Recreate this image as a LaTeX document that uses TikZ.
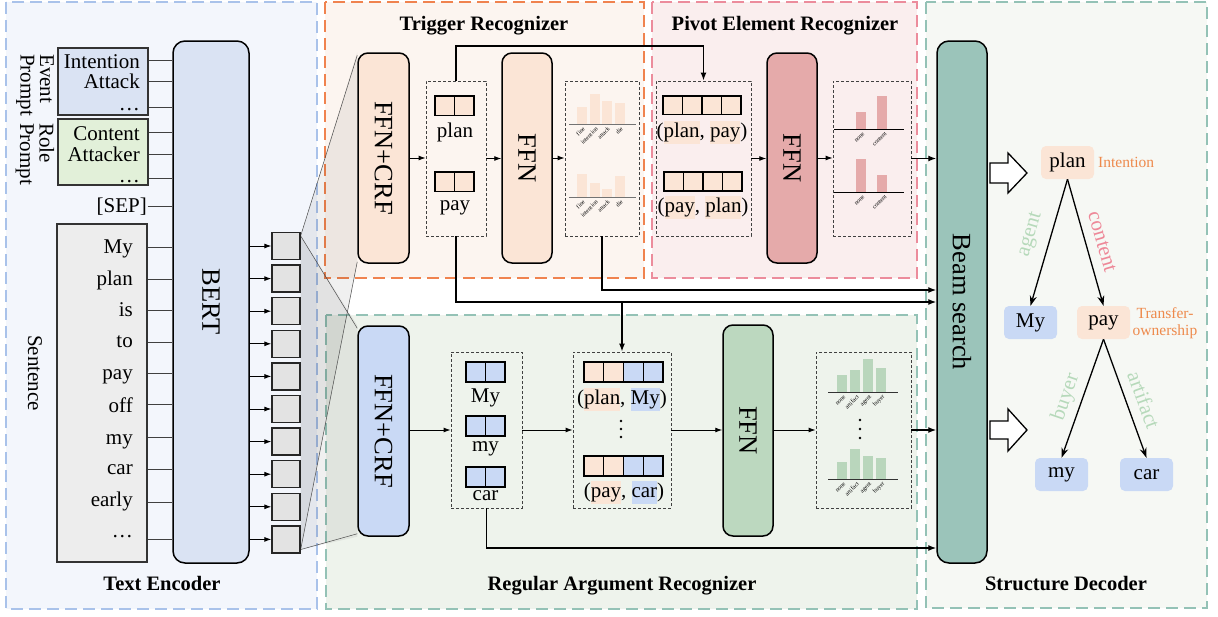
\documentclass[tikz,border=0pt]{standalone}
\usepackage{fontspec}
\setmainfont{Liberation Serif}
\usepackage{graphicx}
\usetikzlibrary{arrows.meta,calc}
\pgfdeclarelayer{bg}
\pgfsetlayers{bg,main}
\definecolor{fte}{HTML}{F3F6FC}
\definecolor{dblue}{HTML}{A9C2EA}
\definecolor{ftrig}{HTML}{FCF5F0}
\definecolor{dorange}{HTML}{F0834F}
\definecolor{fpiv}{HTML}{FAEEEE}
\definecolor{dpink}{HTML}{EC8C9C}
\definecolor{farg}{HTML}{EEF3EC}
\definecolor{dteal}{HTML}{94C2B6}
\definecolor{fstr}{HTML}{F6F8F4}
\definecolor{pch}{HTML}{FBE5D6}
\definecolor{lblue}{HTML}{DAE3F3}
\definecolor{lgreen}{HTML}{E2F0D9}
\definecolor{cblue}{HTML}{C9D9F5}
\definecolor{rose}{HTML}{E5AAAA}
\definecolor{mgreen}{HTML}{BCD8BF}
\definecolor{beamc}{HTML}{9BC4BA}
\definecolor{sgray}{HTML}{EDEDED}
\definecolor{tgray}{HTML}{E3E3E3}
\definecolor{barg}{HTML}{B9D6BC}
\definecolor{orng}{HTML}{EE8A4C}
\definecolor{pinkt}{HTML}{EE8898}
\definecolor{greent}{HTML}{B6D9BA}
\newcommand{\hlt}[2]{{\setlength{\fboxsep}{0pt}\colorbox{#1}{\strut #2}}}
\begin{document}
\begin{tikzpicture}[x=1pt,y=-1pt,
 region/.style={line width=2.6pt, dash pattern=on 12pt off 6pt},
 rbox/.style={draw=black, line width=1.5pt, rounded corners=10pt, inner sep=0pt},
 dbox/.style={draw=black!75, line width=0.9pt, dash pattern=on 3pt off 2pt, inner sep=0pt},
 pbox/.style={draw=black!80, line width=1.3pt, inner sep=0pt},
 tok/.style={draw=black!85, line width=1.3pt, fill=tgray, minimum width=28pt, minimum height=27pt, inner sep=0pt},
 cellst/.style={draw=black, line width=1.4pt},
 arr/.style={-{Latex[length=7pt,width=5pt]}, line width=0.9pt},
 conn/.style={-{Latex[length=8pt,width=6pt]}, line width=1.4pt},
 tline/.style={draw=black!75, line width=1pt},
 txt/.style={font=\fontsize{21}{23}\selectfont, inner sep=0pt},
 big/.style={font=\fontsize{26.5}{28}\selectfont},
 sec/.style={font=\fontsize{20.5}{23}\selectfont\bfseries, inner sep=0pt},
 tinyl/.style={font=\fontsize{6}{6.5}\selectfont, inner sep=0pt, rotate=45, anchor=east},
 snode/.style={rounded corners=5pt, minimum width=53pt, minimum height=33pt, inner sep=0pt, font=\fontsize{21}{23}\selectfont},
 slab/.style={font=\fontsize{21}{23}\selectfont, inner sep=0pt},
 olab/.style={font=\fontsize{15.5}{17.5}\selectfont, inner sep=0pt, text=orng},
 tedge/.style={-{Stealth[length=10pt,width=7pt]}, line width=1.3pt},
 funnel/.style={draw=black!70, line width=0.5pt},
]
\useasboundingbox (0,0) rectangle (1218,616);

% ---------------- Text encoder ----------------
\node[txt, rotate=-90, anchor=west, align=left, font=\fontsize{21}{19.5}\selectfont] (evlab) at (35,54) {Event\\Prompt};
\node[txt, rotate=-90, anchor=west, align=left, font=\fontsize{21}{19.5}\selectfont] (rolab) at (35,123) {Role\\Prompt};
\node[txt, rotate=-90] (sentlab) at (35,373) {Sentence};

\node[pbox, fill=lblue, minimum width=90pt, minimum height=67pt] (evp) at (103,81.5) {};
\node[pbox, fill=lgreen, minimum width=90pt, minimum height=66pt] (rop) at (103,152) {};
\node[pbox, fill=sgray, minimum width=90pt, minimum height=338pt] (sent) at (102,393) {};

\node[txt, anchor=base east] (w1) at (140,68) {Intention};
\node[txt, anchor=base east] (w2) at (140,88) {Attack};
\node[txt, anchor=base east] (w3) at (140,110) {\ldots};
\node[txt, anchor=base east] (w4) at (140,140) {Content};
\node[txt, anchor=base east] (w5) at (140,161) {Attacker};
\node[txt, anchor=base east] (w6) at (140,182) {\ldots};
\node[txt, anchor=base east] (sep) at (147,212) {[SEP]};
\foreach \w/\b [count=\i] in {My/253,plan/285,is/316,to/347,pay/379,off/412,my/444,car/474,early/506,\ldots/537}
  \node[txt, anchor=base east] (s\i) at (133,\b) {\w};

\node[rbox, fill=lblue, minimum width=76pt, minimum height=522pt, big, rounded corners=12pt] (bert) at (211,302) {\rotatebox{-90}{BERT}};

\foreach \yy in {60,81,107}
  \draw[tline] (evp.east |- 0,\yy) -- (bert.west |- 0,\yy);
\foreach \yy in {132,154,178}
  \draw[tline] (rop.east |- 0,\yy) -- (bert.west |- 0,\yy);
\draw[tline] (sent.east |- 0,206) -- (bert.west |- 0,206);
\foreach \yy in {247,279,310,342,373,404,437,469,502,539}
  \draw[tline] (sent.east |- 0,\yy) -- (bert.west |- 0,\yy);

\foreach \k in {0,...,9}{
  \node[tok] (tok\k) at (286,{246+32.6*\k}) {};
  \draw[arr] (bert.east |- tok\k) -- (tok\k.west);
}

% ---------------- Trigger recognizer ----------------
\node[rbox, fill=pch, minimum width=51pt, minimum height=210pt, big] (tffncrf) at (383.5,158) {\rotatebox{-90}{FFN+CRF}};
\node[dbox, minimum width=60pt, minimum height=155pt] (tdash) at (456,158.5) {};
\node[rbox, fill=pch, minimum width=50pt, minimum height=210pt, big] (tffn) at (527,158) {\rotatebox{-90}{FFN}};
\node[dbox, minimum width=74pt, minimum height=155pt] (tchart) at (602,158.5) {};
\draw[arr] (tffncrf.east) -- (tffncrf.east -| tdash.west);
\draw[arr] (tdash.east) -- (tdash.east -| tffn.west);
\draw[arr] (tffn.east) -- (tffn.east -| tchart.west);
\foreach \yy in {96,172}
  \foreach \i in {0,1}
    \draw[cellst, fill=pch] ({435+19.5*\i},\yy) rectangle ++(19.5,19.5);
\node[txt, anchor=base] (tplan) at (455,137) {plan};
\node[txt, anchor=base] (tpay) at (455,210) {pay};
% trigger charts
\foreach \xa/\top in {577/107,590/94,602/101,615/103} \fill[pch] (\xa,124) rectangle ++(10,{\top-124});
\foreach \xa/\top in {577/174,590/183,602/189,615/176} \fill[pch] (\xa,197) rectangle ++(10,{\top-197});
\draw[black!55, line width=1.4pt] (569,124.5) -- (636,124.5);
\draw[black!55, line width=1.4pt] (569,197.5) -- (636,197.5);
\foreach \yb in {128,201}{
  \node[tinyl] (tl1\yb) at (584,\yb) {fine};
  \node[tinyl] (tl2\yb) at (597,\yb) {intention};
  \node[tinyl] (tl3\yb) at (609,\yb) {attack};
  \node[tinyl] (tl4\yb) at (622,\yb) {die};
}

% ---------------- Pivot element recognizer ----------------
\node[dbox, minimum width=95pt, minimum height=155pt] (pdash) at (703.5,158.5) {};
\foreach \i in {0,...,3} \draw[cellst, fill=pch] ({663+19.5*\i},96) rectangle ++(19.5,18.5);
\foreach \i in {0,...,3} \draw[cellst, fill=pch] ({664+19.5*\i},172) rectangle ++(19.5,19);
\node[txt, anchor=base] (pp1) at (702,137) {(\hlt{pch}{plan}, \hlt{pch}{pay})};
\node[txt, anchor=base] (pp2) at (703,212) {(\hlt{pch}{pay}, \hlt{pch}{plan})};
\node[rbox, fill=rose, minimum width=50pt, minimum height=210pt, big] (pffn) at (792,158) {\rotatebox{-90}{FFN}};
\node[dbox, minimum width=78pt, minimum height=155pt] (pchart) at (872,158.5) {};
\draw[arr] (pdash.east) -- (pdash.east -| pffn.west);
\draw[arr] (pffn.east) -- (pffn.east -| pchart.west);
\fill[rose] (856,129) rectangle (866,112);
\fill[rose] (877,129) rectangle (887,96);
\fill[rose] (856,192) rectangle (866,159);
\fill[rose] (877,192) rectangle (887,175);
\draw[black, line width=1pt] (834,129) -- (904,129);
\draw[black, line width=1pt] (834,192) -- (904,192);
\foreach \yb in {133,196}{
  \node[tinyl] (pl1\yb) at (864,\yb) {none};
  \node[tinyl] (pl2\yb) at (886,\yb) {content};
}

% ---------------- Regular argument recognizer ----------------
\node[rbox, fill=cblue, minimum width=51pt, minimum height=210pt, big] (affncrf) at (383.5,431) {\rotatebox{-90}{FFN+CRF}};
\node[dbox, minimum width=71pt, minimum height=156pt] (adash) at (486.5,430) {};
\node[dbox, minimum width=98pt, minimum height=156pt] (apair) at (622,430) {};
\node[rbox, fill=mgreen, minimum width=50pt, minimum height=211pt, big] (affn) at (748,430.5) {\rotatebox{-90}{FFN}};
\node[dbox, minimum width=95pt, minimum height=156pt] (achart) at (863.5,430) {};
\draw[arr] (affncrf.east |- adash.west) -- (adash.west);
\draw[arr] (adash.east) -- (apair.west);
\draw[arr] (apair.east) -- (apair.east -| affn.west);
\draw[arr] (affn.east |- achart.west) -- (achart.west);
\foreach \yy in {362,416,467}
  \foreach \i in {0,1}
    \draw[cellst, fill=cblue] ({466+19.5*\i},\yy) rectangle ++(19.5,20);
\node[txt, anchor=base] (aMy) at (485.5,402) {My};
\node[txt, anchor=base] (amy) at (485.5,451) {my};
\node[txt, anchor=base] (acar) at (485.5,500) {car};
\foreach \yy in {362,456}
  \foreach \i/\c in {0/pch,1/pch,2/cblue,3/cblue}
    \draw[cellst, fill=\c] ({584+19.75*\i},\yy) rectangle ++(19.75,20);
\node[txt, anchor=base] (ap1) at (622,404) {(\hlt{pch}{plan}, \hlt{cblue}{My})};
\node[txt, anchor=base] (ap2) at (624,497) {(\hlt{pch}{pay}, \hlt{cblue}{car})};
\foreach \yy in {421,429,437} \fill (621,\yy) circle (1.4);
% argument charts
\foreach \xa/\top in {837/375,850/370,863/359,876/368} \fill[barg] (\xa,392) rectangle ++(10,{\top-392});
\foreach \xa/\top in {837/462,850/449,863/456,876/458} \fill[barg] (\xa,479) rectangle ++(10,{\top-479});
\draw[black!80, line width=1pt] (828,392) -- (898,392);
\draw[black!80, line width=1pt] (828,479) -- (898,479);
\foreach \yy in {420,429,438} \fill (860,\yy) circle (1.4);
\foreach \yb in {396,483}{
  \node[tinyl] (al1\yb) at (845,\yb) {none};
  \node[tinyl] (al2\yb) at (858,\yb) {artifact};
  \node[tinyl] (al3\yb) at (871,\yb) {agent};
  \node[tinyl] (al4\yb) at (884,\yb) {buyer};
}

% ---------------- Structure decoder ----------------
\node[rbox, fill=beamc, minimum width=50pt, minimum height=522pt, big, rounded corners=12pt] (beam) at (962,302) {\rotatebox{-90}{Beam search}};

\draw[conn] (pchart.east) -- (pchart.east -| beam.west);
\coordinate (cup) at (456,46);
\draw[conn] (tdash.north) -- (cup) -| (pdash.north);
\coordinate (cdn) at (456,302);
\coordinate (cbr) at (622,302);
\draw[conn] (tdash.south) -- (cdn) -- (cdn -| beam.west);
\draw[conn] (cbr) -- (apair.north);
\coordinate (ctc) at (602,290);
\draw[conn] (tchart.south) -- (ctc) -- (ctc -| beam.west);
\draw[conn] (achart.east) -- (achart.east -| beam.west);
\coordinate (cad) at (486.5,548);
\draw[conn] (adash.south) -- (cad) -- (cad -| beam.west);

\draw[line width=1.3pt, fill=white] (990,163) -- (1008,163) -- (1008,153) -- (1027,173) -- (1008,193) -- (1008,183) -- (990,183) -- cycle;
\draw[line width=1.3pt, fill=white] (990,421) -- (1008,421) -- (1008,409) -- (1027,430) -- (1008,451) -- (1008,439) -- (990,439) -- cycle;

\node[snode, fill=pch] (splan) at (1067.5,162.5) {plan};
\node[snode, fill=cblue] (sMy) at (1030.5,322.5) {My};
\node[snode, fill=pch] (spay) at (1103.5,322.5) {pay};
\node[snode, fill=cblue] (smy) at (1061.5,474.5) {my};
\node[snode, fill=cblue] (scar) at (1146.5,474.5) {car};
\node[olab, anchor=base west] (oint) at (1098,167) {Intention};
\node[olab, align=center] (otr) at (1165,323) {Transfer-\\ownership};
\draw[tedge] (splan.south) -- (sMy.north);
\draw[tedge] (splan.south) -- (spay.north);
\draw[tedge] (spay.south) -- (smy.north);
\draw[tedge] (spay.south) -- (scar.north);
\node[slab, text=greent, rotate=73.7] (eag) at (1031,235) {agent};
\node[slab, text=pinkt, rotate=-73.7] (eco) at (1102,242) {content};
\node[slab, text=greent, rotate=71] (ebu) at (1066,397) {buyer};
\node[slab, text=greent, rotate=-70] (ear) at (1144,400) {artifact};

% ---------------- section labels ----------------
\node[sec, anchor=base] (lte) at (162,590) {Text Encoder};
\node[sec, anchor=base] (ltr) at (484,30) {Trigger Recognizer};
\node[sec, anchor=base] (lpv) at (785,30) {Pivot Element Recognizer};
\node[sec, anchor=base] (lar) at (622,590) {Regular Argument Recognizer};
\node[sec, anchor=base] (lsd) at (1066,590) {Structure Decoder};

% ---------------- background ----------------
\begin{pgfonlayer}{bg}
\draw[region, draw=dblue, fill=fte] (6,2) rectangle (317,609);
\draw[region, draw=dorange, fill=ftrig] (325,2) rectangle (644,278);
\draw[region, draw=dpink, fill=fpiv] (652,2) rectangle (917,278);
\draw[region, draw=dteal, fill=farg] (326,315) rectangle (917,609);
\draw[region, draw=dteal, fill=fstr] (926,2) rectangle (1207,608);
\fill[black, opacity=0.06] ($(tok0.north east)+(0,4)$) -- (tffncrf.north west) -- (tffncrf.south west) -- ($(tok9.south east)+(0,-4)$) -- cycle;
\fill[black, opacity=0.06] ($(tok0.north east)+(0,4)$) -- (affncrf.north west) -- (affncrf.south west) -- ($(tok9.south east)+(0,-4)$) -- cycle;
\draw[funnel] ($(tok0.north east)+(0,4)$) -- ($(tffncrf.north west)+(0,3)$);
\draw[funnel] ($(tok0.north east)+(0,4)$) -- ($(affncrf.north west)+(0,3)$);
\draw[funnel] ($(tok9.south east)+(0,-4)$) -- ($(tffncrf.south west)+(0,-2)$);
\draw[funnel] ($(tok9.south east)+(0,-4)$) -- ($(affncrf.south west)+(0,-3)$);
\end{pgfonlayer}
\end{tikzpicture}
\end{document}
